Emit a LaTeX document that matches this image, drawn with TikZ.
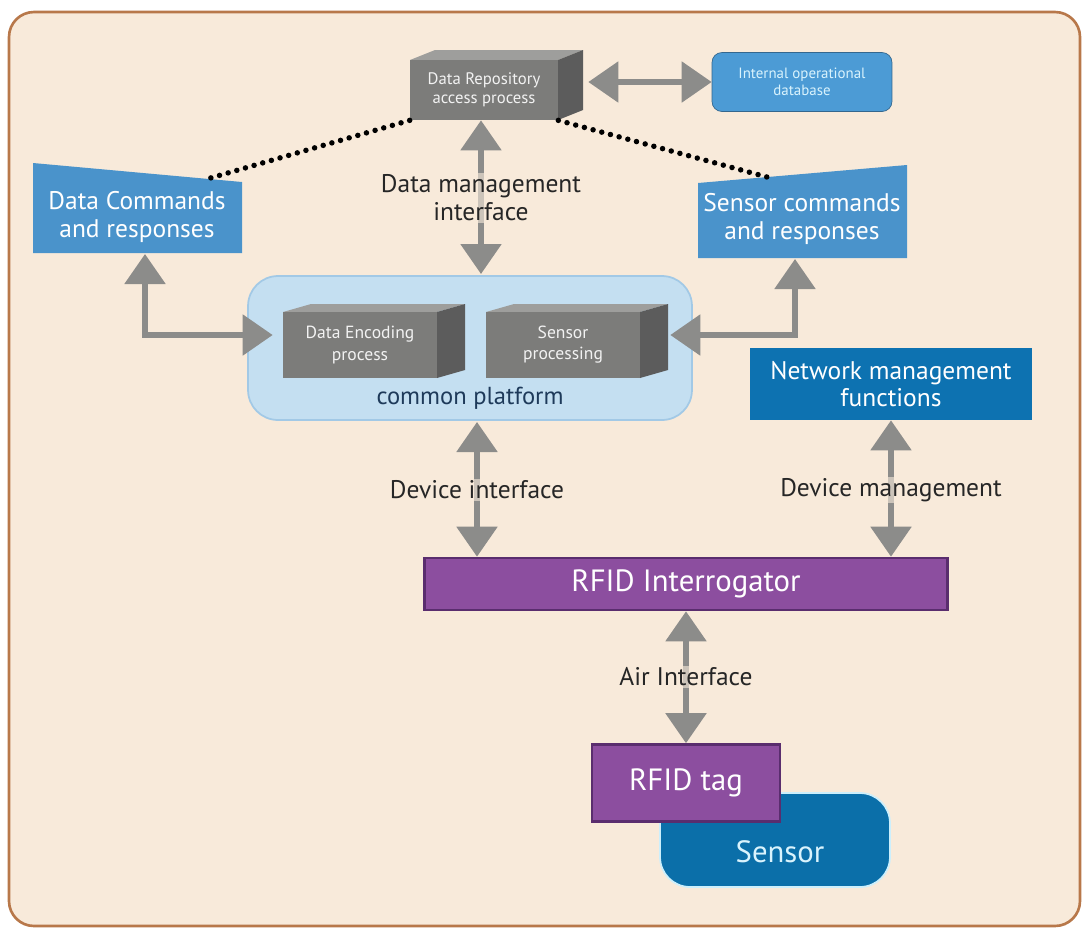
\documentclass[tikz,border=0pt]{standalone}
\usepackage{fontspec}
\setmainfont{PT Sans}
\usetikzlibrary{arrows.meta, positioning, shapes, calc}

\definecolor{bgbeige}{HTML}{F8EADA}
\definecolor{framebrown}{HTML}{B8784A}
\definecolor{arrowgray}{HTML}{8C8C8A}
\definecolor{cubefront}{HTML}{7C7C7A}
\definecolor{cubeside}{HTML}{5C5C5C}
\definecolor{cubetop}{HTML}{9E9E9C}
\definecolor{cmdblue}{HTML}{4A93CB}
\definecolor{netblue}{HTML}{0D72B1}
\definecolor{sensblue}{HTML}{0B6FA9}
\definecolor{rfidpurple}{HTML}{8C4E9F}
\definecolor{rfidborder}{HTML}{5A2D6E}
\definecolor{platfill}{HTML}{C4DFF1}
\definecolor{platline}{HTML}{A2C9E6}
\definecolor{plattext}{HTML}{1E3A5A}
\definecolor{dbblue}{HTML}{4C9BD5}

\tikzset{
        x=0.02cm, y=-0.02cm, % one unit is one pixel of the original drawing
        twoway/.style={draw=arrowgray, line width=0.11cm,
            {Triangle[length=0.6cm,width=0.8cm]}-{Triangle[length=0.6cm,width=0.8cm]}}, % grey double arrows
        dotline/.style={line width=0.11cm, dash pattern=on 0pt off 0.18cm, line cap=round}, % dotted links
        every node/.style={align=center},
    }
\tikzstyle{label}=[text=black!85, font=\fontsize{14.5}{16}\selectfont, fill=bgbeige, fill opacity=0.6, text opacity=1, inner sep=1pt]
\tikzstyle{cube}=[fill=cubefront, text=white!90!gray, font=\fontsize{9.5}{11}\selectfont, inner sep=0pt]
\tikzstyle{bluebox}=[fill=netblue, text=white, font=\fontsize{14.5}{15.5}\selectfont, inner sep=0pt]
\tikzstyle{rfidbox}=[fill=rfidpurple, draw=rfidborder, line width=1.5pt, text=white, font=\fontsize{17.5}{19}\selectfont, inner sep=0pt]

\begin{document}
\begin{tikzpicture}
    \useasboundingbox (0,0) rectangle (1086,931);
    \draw[rounded corners=0.5cm, fill=bgbeige, draw=framebrown, line width=1.5pt] (9,12) rectangle (1080,926);

    % repository and database
    \fill[cubetop] (410,60) -- ++(25,-10) -- ++(148,0) -- ++(-25,10) -- cycle;
    \fill[cubeside] (558,60) -- ++(25,-10) -- ++(0,60) -- ++(-25,10) -- cycle;
    \node[cube, minimum width=2.96cm, minimum height=1.2cm] (repo) at (484,90) {Data Repository\\access process};
    \node[fill=dbblue, draw=cmdblue!70!black, rounded corners=0.2cm, text=white!85!cyan,
          font=\fontsize{8.5}{10}\selectfont, minimum width=3.6cm, minimum height=1.18cm] (db) at (802,82) {Internal operational\\database};
    \draw[twoway] ($(repo.east |- db.west)+(30,0)$) -- (db.west);

    % command boxes
    \fill[cmdblue] (33,163) -- (242,182) -- (242,253) -- (33,253) -- cycle;
    \node[bluebox, fill=none] (dcmd) at (137,217) {Data Commands\\and responses};
    \coordinate (dcmdtop) at (207,179);
    \coordinate (dcmdbot) at (145,254);
    \fill[cmdblue] (698,183) -- (907,165) -- (907,258) -- (698,258) -- cycle;
    \node[bluebox, fill=none] (scmd) at (802,219) {Sensor commands\\and responses};
    \coordinate (scmdtop) at (767,177);
    \coordinate (scmdbot) at (795,259);

    \draw[dotline] (repo.south west) -- (dcmdtop);
    \draw[dotline] (repo.south east) -- (scmdtop);

    % common platform
    \node[fill=platfill, draw=platline, line width=1pt, rounded corners=0.6cm,
          minimum width=8.88cm, minimum height=2.88cm] (platform) at (470,348) {};
    \node[text=plattext, font=\fontsize{14}{16}\selectfont] (plattitle) at (470,398) {common platform};
    \fill[cubetop] (283,312) -- ++(28,-8) -- ++(154,0) -- ++(-28,8) -- cycle;
    \fill[cubeside] (437,312) -- ++(28,-8) -- ++(0,66) -- ++(-28,8) -- cycle;
    \node[cube, font=\fontsize{10}{12}\selectfont, minimum width=3.08cm, minimum height=1.32cm] (enc) at (360,345) {Data Encoding\\process};
    \fill[cubetop] (486,312) -- ++(28,-8) -- ++(154,0) -- ++(-28,8) -- cycle;
    \fill[cubeside] (640,312) -- ++(28,-8) -- ++(0,66) -- ++(-28,8) -- cycle;
    \node[cube, font=\fontsize{10}{12}\selectfont, minimum width=3.08cm, minimum height=1.32cm] (sens) at (563,345) {Sensor\\processing};

    \draw[twoway] (dcmdbot) |- ([xshift=-0.2cm, yshift=0.2cm]enc.west);
    \draw[twoway] (scmdbot) |- ([xshift=0.6cm, yshift=0.2cm]sens.east);
    \draw[twoway] (repo.south -| 481,0) -- (481,274);
    \node[label] (dmi) at (481,198) {Data management\\interface};

    % network management
    \node[bluebox, minimum width=5.64cm, minimum height=1.44cm] (netm) at (891,384) {Network management\\functions};

    % RFID side
    \node[rfidbox, minimum width=10.46cm, minimum height=1.04cm] (rfid) at (686,584) {RFID Interrogator};
    \draw[twoway] (477,422) -- (rfid.north -| 477,0);
    \node[label] (devif) at (477,490) {Device interface};
    \draw[twoway] (netm.south) -- (netm.south |- rfid.north);
    \node[label] (devman) at (891,490) {Device management};

    \node[fill=sensblue, draw=white!80!cyan, line width=1pt, rounded corners=0.6cm,
          minimum width=4.6cm, minimum height=1.88cm] (sensor) at (775,840) {};
    \node[text=white!85!cyan, font=\fontsize{17.5}{19}\selectfont] (sensortext) at (780,852) {Sensor};
    \node[rfidbox, minimum width=3.76cm, minimum height=1.54cm] (tag) at (686,783) {RFID tag};
    \draw[twoway] (rfid.south) -- (tag.north);
    \node[label] (air) at (686,677) {Air Interface};
\end{tikzpicture}
\end{document}
